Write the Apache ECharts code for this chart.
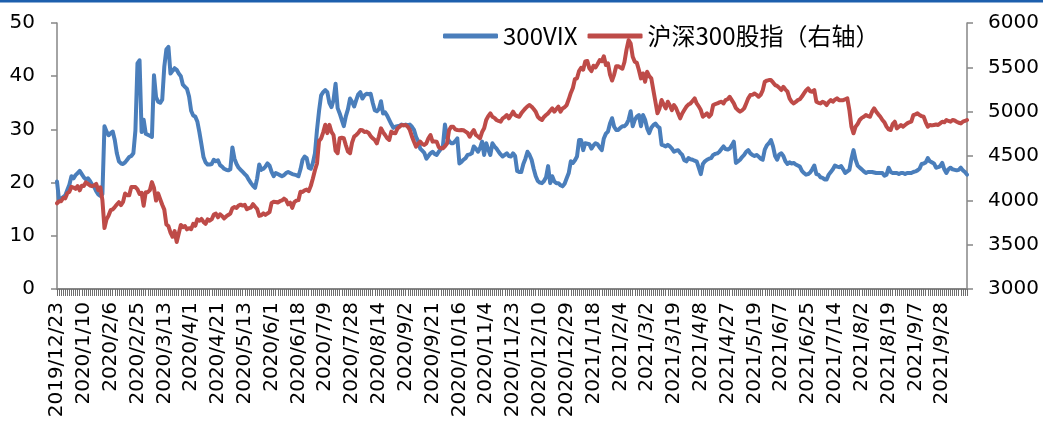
<!DOCTYPE html>
<html><head><meta charset="utf-8">
<script src="https://cdn.jsdelivr.net/npm/echarts@6/dist/echarts.min.js"></script>
<style>html,body{margin:0;padding:0;background:#fff}#c{width:1043px;height:437px}</style>
</head><body><div id="c"></div>
<script>
// Trading-day categories: weekdays from start to end, minus exchange holidays
const startDate = [2019, 12, 23];
const endDate = [2021, 10, 21];
const holidays = [
  '2020-01-01','2020-01-24','2020-01-27','2020-01-28','2020-01-29','2020-01-30','2020-01-31',
  '2020-04-06','2020-05-01','2020-05-04','2020-05-05','2020-06-25','2020-06-26',
  '2020-10-01','2020-10-02','2020-10-05','2020-10-06','2020-10-07','2020-10-08',
  '2021-01-01','2021-02-11','2021-02-12','2021-02-15','2021-02-16','2021-02-17',
  '2021-04-05','2021-05-03','2021-05-04','2021-05-05','2021-06-14',
  '2021-09-20','2021-09-21','2021-10-01','2021-10-04','2021-10-05','2021-10-06','2021-10-07'
];
const labelEvery = 13;

const vix = [
20.2,16.7,17.0,17.3,17.6,18.6,19.6,21.2,20.8,21.4,21.8,22.2,21.6,
21.0,20.6,20.8,20.3,19.6,19.2,18.4,17.8,17.5,17.8,30.6,29.6,28.9,
29.3,29.6,28.0,25.5,24.0,23.6,23.5,23.8,24.3,24.8,25.0,25.5,29.8,
42.4,43.0,29.5,31.8,29.2,29.0,28.8,28.6,40.2,36.1,35.2,35.0,35.6,
41.8,45.0,45.5,40.5,41.0,41.5,41.2,40.5,40.0,38.4,38.0,37.6,36.2,
33.5,32.6,32.4,31.5,29.5,27.2,24.8,23.8,23.4,23.4,23.5,24.3,24.0,
24.2,23.3,23.0,22.6,22.4,22.3,22.5,26.6,24.5,23.5,22.8,22.4,22.0,
21.6,21.2,20.5,19.9,19.4,19.0,20.8,23.4,22.4,22.6,23.0,23.6,23.2,
22.0,21.2,21.8,21.6,21.4,21.2,21.4,21.8,22.0,21.8,21.6,21.5,21.4,
21.2,22.5,24.3,24.9,24.6,22.8,22.6,23.7,25.5,29.9,33.5,36.4,37.0,
37.4,37.0,35.0,34.2,35.5,38.6,34.0,33.0,31.8,30.6,32.5,33.8,35.8,
35.2,34.3,35.5,36.6,37.0,35.8,36.4,36.7,36.6,36.7,35.0,33.6,33.4,
33.8,35.3,33.0,33.2,32.6,31.8,31.0,30.3,30.5,30.6,30.7,30.9,30.8,
30.9,30.8,30.9,30.5,29.9,28.6,27.8,26.4,26.0,25.6,24.5,25.0,25.5,
25.8,25.4,25.2,25.8,26.3,26.8,30.9,28.6,27.8,27.4,27.4,27.8,28.3,
23.6,23.9,24.3,24.6,25.2,25.3,25.5,26.8,26.4,25.8,26.5,27.7,25.2,
27.4,26.2,25.2,27.4,26.8,26.4,25.8,25.3,24.9,25.2,25.5,25.0,24.9,
25.5,25.0,22.2,22.0,22.0,23.5,24.5,25.8,25.2,24.3,22.6,21.2,20.3,
20.0,19.9,20.3,21.0,23.1,19.9,21.2,20.2,19.9,19.9,19.5,19.3,19.8,
20.8,21.8,24.0,23.7,24.2,24.9,28.0,28.0,26.1,27.4,27.3,27.2,26.4,
27.0,27.4,27.2,26.6,26.1,28.3,29.2,29.6,31.1,32.1,30.5,29.9,29.9,
30.3,30.6,30.6,31.0,31.8,33.4,30.6,31.8,32.4,32.7,30.6,32.7,31.8,
30.2,29.3,30.3,30.8,31.1,30.6,30.3,27.1,27.0,26.8,27.1,26.8,26.4,
25.8,26.0,26.1,25.6,25.2,24.2,24.0,24.6,24.4,24.3,24.1,24.0,22.8,
21.6,23.5,24.0,24.3,24.5,24.6,25.2,25.4,25.5,25.8,26.3,26.8,26.3,
26.2,26.4,27.0,27.7,23.7,24.0,24.3,24.8,25.2,25.8,26.1,25.5,25.2,
25.0,25.2,24.9,24.5,24.3,26.2,27.0,27.4,28.0,26.8,25.0,24.3,25.3,
25.5,25.0,24.0,23.5,23.8,23.6,23.7,23.4,23.2,23.0,22.2,21.8,21.5,
21.6,21.9,22.5,23.2,21.6,21.5,21.0,20.9,20.6,20.6,21.5,22.0,22.5,
23.2,23.0,22.9,23.1,22.5,21.8,22.1,22.4,24.5,26.1,24.3,23.2,22.8,
22.5,22.1,21.8,22.0,22.0,22.0,21.9,21.8,21.8,21.8,21.8,21.3,21.5,
22.8,22.0,21.8,21.8,21.8,21.6,21.8,21.8,21.6,21.8,21.8,21.8,22.0,
22.1,22.3,22.6,23.5,23.6,23.8,24.6,24.0,23.8,23.6,22.8,22.9,23.1,
23.7,22.5,21.8,22.5,22.8,22.5,22.4,22.3,22.4,22.8,22.3,22.0,21.5
];

const csi300 = [
3967,3990,3990,4026,4022,4081,4096,4152,4144,4130,4161,4113,4164,
4163,4203,4186,4167,4160,4169,4185,4114,4146,4003,3688,3785,3828,
3889,3899,3924,3952,3979,3945,3981,4077,4058,4058,4149,4150,4149,
4123,4073,4084,3940,4092,4092,4115,4206,4139,3997,4079,4014,3950,
3895,3727,3709,3636,3589,3653,3531,3626,3722,3698,3710,3673,3686,
3675,3734,3713,3786,3770,3790,3756,3734,3785,3770,3787,3839,3850,
3808,3843,3824,3796,3818,3835,3850,3912,3925,3913,3941,3951,3941,
3950,3901,3912,3919,3957,3928,3902,3824,3831,3853,3836,3852,3867,
3971,3983,3981,3975,3990,3999,4019,4003,3955,3973,3915,3980,3996,
4002,4098,4095,4112,4121,4104,4163,4247,4339,4415,4671,4698,4767,
4852,4758,4851,4773,4737,4560,4531,4700,4705,4700,4620,4550,4531,
4650,4718,4737,4760,4793,4790,4770,4775,4760,4725,4700,4680,4643,
4720,4812,4770,4737,4700,4681,4775,4760,4756,4810,4831,4850,4845,
4850,4830,4793,4720,4660,4606,4640,4662,4635,4625,4643,4700,4737,
4662,4665,4662,4600,4587,4587,4610,4640,4790,4831,4831,4800,4793,
4791,4793,4790,4775,4760,4718,4760,4793,4737,4720,4700,4770,4812,
4906,4950,4981,4943,4930,4906,4895,4887,4925,4940,4962,4925,4960,
5000,4962,4950,4943,4981,5010,5037,5060,5075,5056,5030,5000,4943,
4920,4906,4940,4962,4981,5010,5037,5000,5030,5056,5000,5037,5050,
5075,5140,5211,5267,5368,5376,5458,5495,5473,5567,5572,5488,5458,
5518,5500,5537,5581,5569,5625,5526,5546,5418,5351,5418,5511,5512,
5498,5484,5560,5700,5807,5768,5620,5562,5550,5470,5375,5431,5338,
5450,5400,5375,5244,5112,4981,5037,5131,5080,5037,5112,5070,5018,
5075,5040,4981,4925,4980,5018,5056,5080,5093,5120,5150,5093,5060,
5018,4943,4960,4981,4943,4970,5075,5085,5093,5105,5112,5093,5131,
5140,5168,5130,5093,5040,5018,5000,5015,5037,5093,5150,5187,5190,
5205,5190,5168,5190,5240,5338,5350,5356,5356,5330,5300,5290,5270,
5244,5280,5250,5225,5150,5112,5093,5110,5130,5140,5170,5206,5240,
5262,5230,5225,5244,5112,5100,5093,5112,5100,5075,5110,5130,5112,
5135,5150,5130,5130,5130,5140,5150,5018,4831,4756,4831,4860,4906,
4930,4943,4962,4950,4943,5000,5037,5000,4970,4943,4906,4880,4831,
4800,4793,4860,4887,4812,4830,4850,4831,4850,4868,4880,4887,4962,
4970,4981,4962,4950,4943,4880,4831,4850,4845,4850,4855,4850,4868,
4887,4880,4906,4895,4887,4906,4900,4887,4875,4868,4887,4895,4906
];

const seriesNames = ['300VIX', '沪深300股指（右轴）'];
const leftTicks = {min: 0, max: 50, interval: 10};
const rightTicks = {min: 3000, max: 6000, interval: 500};

function pad(n){return n < 10 ? '0' + n : '' + n;}
function buildDates(){
  const hs = new Set(holidays);
  const out = [];
  let d = new Date(Date.UTC(startDate[0], startDate[1]-1, startDate[2]));
  const end = Date.UTC(endDate[0], endDate[1]-1, endDate[2]);
  while (d.getTime() <= end) {
    const wd = d.getUTCDay();
    const y = d.getUTCFullYear(), m = d.getUTCMonth()+1, dd = d.getUTCDate();
    const key = y + '-' + pad(m) + '-' + pad(dd);
    if (wd !== 0 && wd !== 6 && !hs.has(key)) out.push(y + '/' + m + '/' + dd);
    d = new Date(d.getTime() + 86400000);
  }
  return out;
}
const dates = buildDates();

const axisGray = '#868686';
const plain = v => String(v);
const chart = echarts.init(document.getElementById('c'), null, {renderer: 'canvas'});
chart.setOption({
  animation: false,
  backgroundColor: '#ffffff',
  grid: {left: 57, right: 76, top: 23, bottom: 148, containLabel: false},
  legend: {
    data: seriesNames, left: 438, top: 19,
    itemWidth: 55, itemHeight: 5, itemGap: 10, icon: 'roundRect',
    textStyle: {fontFamily: 'Noto Sans CJK SC', fontSize: 24, color: '#000'}
  },
  xAxis: {
    type: 'category', data: dates, boundaryGap: false,
    axisLine: {show: true, lineStyle: {color: axisGray, width: 2}},
    axisTick: {show: true, inside: false, interval: 0, length: 7, lineStyle: {color: '#6e6e6e', width: 1}},
    axisLabel: {interval: labelEvery - 1, rotate: 90, fontSize: 20, fontFamily: 'DejaVu Sans', color: '#000', margin: 13}
  },
  yAxis: [
    {type: 'value', position: 'left', min: leftTicks.min, max: leftTicks.max, interval: leftTicks.interval,
     splitLine: {show: false},
     axisLine: {show: true, lineStyle: {color: axisGray, width: 1.5}},
     axisTick: {show: true, length: 6, lineStyle: {color: axisGray, width: 1.5}},
     axisLabel: {fontSize: 20, fontFamily: 'DejaVu Sans', color: '#000', margin: 22, formatter: plain}},
    {type: 'value', position: 'right', min: rightTicks.min, max: rightTicks.max, interval: rightTicks.interval,
     splitLine: {show: false},
     axisLine: {show: true, lineStyle: {color: axisGray, width: 1.5}},
     axisTick: {show: true, length: 6, lineStyle: {color: axisGray, width: 1.5}},
     axisLabel: {fontSize: 20, fontFamily: 'DejaVu Sans', color: '#000', margin: 21, formatter: plain}}
  ],
  series: [
    {name: seriesNames[0], type: 'line', data: vix, yAxisIndex: 0, symbol: 'none',
     lineStyle: {color: '#4A7EBB', width: 4, join: 'round', cap: 'round'}, itemStyle: {color: '#4A7EBB'}},
    {name: seriesNames[1], type: 'line', data: csi300, yAxisIndex: 1, symbol: 'none',
     lineStyle: {color: '#BE4B48', width: 4, join: 'round', cap: 'round'}, itemStyle: {color: '#BE4B48'}}
  ],
  graphic: [{type: 'rect', left: 0, top: 0, shape: {width: 1043, height: 2.5}, style: {fill: '#1D5FAD'}}]
});
</script>
</body></html>
